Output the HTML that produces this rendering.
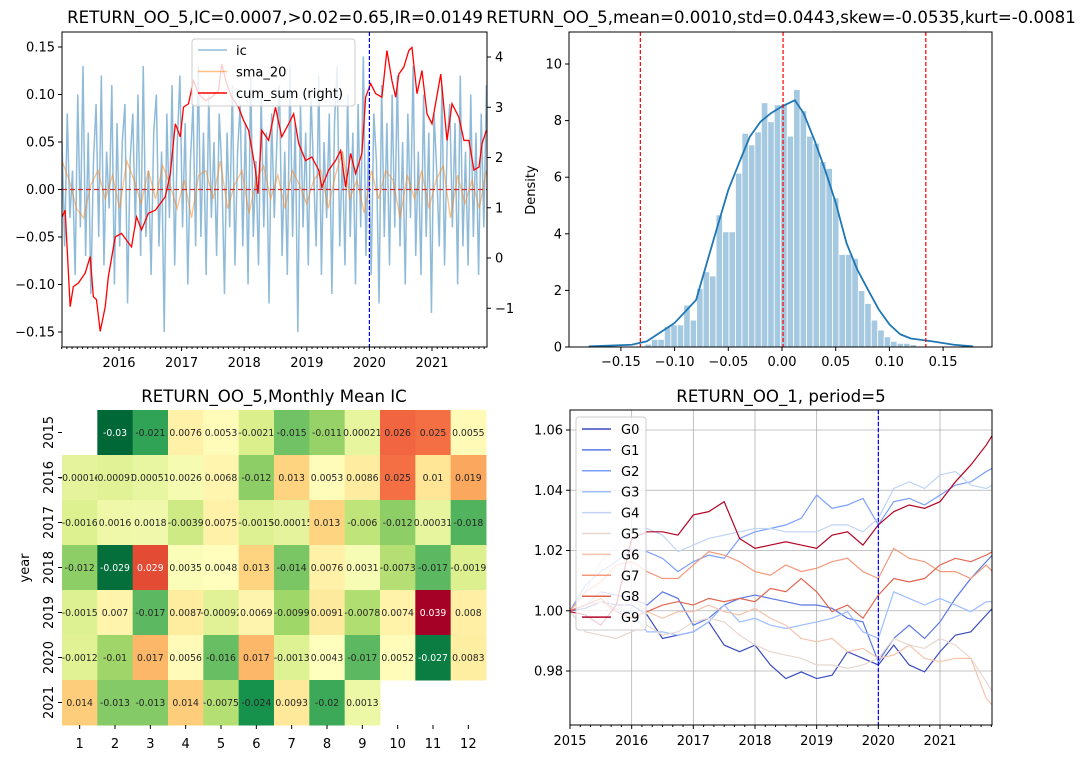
<!DOCTYPE html>
<html><head><meta charset="utf-8">
<style>
html,body{margin:0;padding:0;background:#fff;}
svg{display:block;font-family:"DejaVu Sans","Liberation Sans",sans-serif;}
</style></head>
<body>
<svg id="fig" width="1085" height="759" viewBox="0 0 1085 759" xmlns="http://www.w3.org/2000/svg">
<rect x="0" y="0" width="1085" height="759" fill="#fff"/>
<g id="p1"></g>
<g id="p2"></g>
<g id="p3"></g>
<g id="p4"></g>
</svg>
<script>
// ---------- Panel 1 data ----------
const icStart = 2015.09, icEnd = 2021.87;
const icValues = [0.05,-0.06,0.08,-0.03,0.02,-0.09,0.1,-0.04,0.13,-0.07,0.06,-0.11,0.03,0.09,-0.05,0.12,-0.08,0.04,-0.02,0.11,-0.1,0.07,-0.06,0.05,0.09,-0.12,0.03,0.08,-0.04,0.1,-0.07,0.13,-0.05,0.02,-0.09,0.06,0.1,-0.06,0.04,-0.15,0.08,-0.03,0.11,-0.08,0.05,0.12,-0.04,0.07,-0.1,0.03,0.09,-0.06,0.13,-0.05,0.06,-0.09,0.1,-0.03,0.05,-0.07,0.08,0.02,-0.11,0.06,-0.04,0.11,-0.08,0.04,0.09,-0.06,0.07,-0.1,0.12,-0.05,0.03,-0.08,0.1,-0.04,0.06,-0.12,0.08,-0.03,0.05,0.11,-0.07,0.04,-0.09,0.13,-0.05,0.07,-0.15,0.09,-0.04,0.06,-0.08,0.1,0.02,-0.06,0.12,-0.09,0.05,-0.03,0.08,-0.11,0.07,0.13,-0.06,0.04,-0.08,0.1,-0.05,0.06,-0.1,0.09,-0.04,0.14,-0.07,0.05,-0.09,0.08,0.03,-0.12,0.11,-0.05,0.07,-0.08,0.1,-0.04,0.12,-0.06,0.05,-0.1,0.08,-0.03,0.13,-0.07,0.04,-0.09,0.1,-0.05,0.06,-0.13,0.08,0.02,-0.06,0.11,-0.08,0.05,0.09,-0.04,0.07,-0.1,0.12,-0.06,0.04,-0.08,0.1,-0.05,0.06,-0.09,0.08,-0.04,0.11];
const smaValues = [0.03,0.01,-0.02,-0.03,0.005,0.02,-0.01,0.015,-0.02,0.03,0.01,-0.015,0.02,-0.01,0.025,0.005,-0.02,0.01,-0.03,0.015,0.02,-0.01,0.03,-0.02,0.005,0.02,-0.025,0.01,0.025,-0.01,0.015,-0.02,0.02,0.005,-0.015,0.01,0.02,-0.02,0.015,0.04,-0.01,0.01,-0.025,0.02,-0.01,0.02,0.01,-0.03,0.015,-0.01,0.02,-0.02,0.01,0.025,-0.03,0.015,-0.015,0.01,-0.02,0.02];
const cumDates = [2015.09,2015.14,2015.22,2015.27,2015.35,2015.46,2015.54,2015.59,2015.64,2015.70,2015.78,2015.83,2015.94,2016.04,2016.20,2016.28,2016.36,2016.47,2016.58,2016.74,2016.82,2016.90,2016.98,2017.03,2017.11,2017.19,2017.27,2017.38,2017.48,2017.59,2017.64,2017.72,2017.80,2017.91,2017.99,2018.07,2018.18,2018.22,2018.28,2018.39,2018.50,2018.60,2018.71,2018.79,2018.87,2018.98,2019.08,2019.19,2019.24,2019.35,2019.46,2019.54,2019.62,2019.70,2019.78,2019.88,2019.94,2020.02,2020.10,2020.20,2020.28,2020.36,2020.42,2020.47,2020.55,2020.63,2020.68,2020.76,2020.84,2020.92,2021.00,2021.14,2021.24,2021.32,2021.43,2021.51,2021.59,2021.67,2021.75,2021.80,2021.87];
const cumValues = [0.82,0.95,-0.97,-0.57,-0.50,-0.30,0.03,-0.77,-0.83,-1.46,-0.97,-0.37,0.42,0.49,0.22,0.82,0.56,0.89,0.95,1.22,1.68,2.67,2.41,3.00,3.07,3.53,3.27,3.13,3.20,3.33,3.86,3.47,3.20,3.00,2.74,2.54,1.75,1.28,2.54,2.34,3.00,2.41,2.67,2.87,2.28,1.94,2.01,1.75,1.41,1.75,1.94,2.14,1.41,2.08,1.68,2.08,3.20,3.47,3.27,3.20,4.13,3.53,3.20,3.66,3.80,4.13,4.19,3.27,3.73,2.87,2.67,3.66,2.34,3.07,2.80,2.34,2.34,1.75,1.81,2.28,2.54];
const p1LeftTicks = [0.15,0.10,0.05,0.00,-0.05,-0.10,-0.15];
const p1LeftTickLabels = ["0.15","0.10","0.05","0.00","−0.05","−0.10","−0.15"];
const p1RightTicks = [4,3,2,1,0,-1];
const p1RightTickLabels = ["4","3","2","1","0","−1"];
const p1YearTicks = [2016,2017,2018,2019,2020,2021];
const splitDate = 2020.0;

// ---------- Panel 2 data ----------
const binStart = -0.1276, binWidth = 0.00602;
const binDensity = [0.1,0.27,0.27,0.72,0.78,0.78,1.48,0.95,2.07,2.66,2.51,4.67,4.07,4.07,6.14,7.55,7.14,7.6,8.63,7.96,8.56,8.58,7.45,9.1,8.35,7.45,7.2,6.55,6.31,5.27,3.27,3.27,3.13,1.99,1.54,0.95,0.6,0.36,0.2,0.13,0.13,0.08];
const kdeX = [-0.18,-0.14,-0.126,-0.10,-0.08,-0.07,-0.06,-0.05,-0.04,-0.03,-0.02,-0.01,0.0,0.012,0.02,0.03,0.04,0.05,0.06,0.07,0.08,0.09,0.10,0.11,0.12,0.14,0.16,0.178];
const kdeY = [0.02,0.08,0.2,0.85,1.66,2.97,4.27,5.55,6.5,7.43,7.96,8.27,8.5,8.72,8.27,7.33,6.27,5.1,3.68,2.74,2.03,1.33,0.8,0.45,0.3,0.2,0.08,0.02];
const distLines = [-0.1319,0.0010,0.1339];
const p2XTicks = [-0.15,-0.10,-0.05,0.00,0.05,0.10,0.15];
const p2XTickLabels = ["−0.15","−0.10","−0.05","0.00","0.05","0.10","0.15"];
const p2YTicks = [0,2,4,6,8,10];

// ---------- Panel 3 data ----------
const hmYears = ["2015","2016","2017","2018","2019","2020","2021"];
const hmMonths = ["1","2","3","4","5","6","7","8","9","10","11","12"];
const hm2015 = [null,-0.03,-0.021,0.0076,0.0053,-0.0021,-0.015,-0.011,0.00021,0.026,0.025,0.0055];
const hm2016 = [-0.00016,-0.00091,0.00051,0.0026,0.0068,-0.012,0.013,0.0053,0.0086,0.025,0.01,0.019];
const hm2017 = [-0.0016,0.0016,0.0018,-0.0039,0.0075,-0.0015,-0.00015,0.013,-0.006,-0.012,0.00031,-0.018];
const hm2018 = [-0.012,-0.029,0.029,0.0035,0.0048,0.013,-0.014,0.0076,0.0031,-0.0073,-0.017,-0.0019];
const hm2019 = [-0.0015,0.007,-0.017,0.0087,-0.00092,0.0069,-0.0099,0.0091,-0.0078,0.0074,0.039,0.008];
const hm2020 = [-0.0012,-0.01,0.017,0.0056,-0.016,0.017,-0.0013,0.0043,-0.017,0.0052,-0.027,0.0083];
const hm2021 = [0.014,-0.013,-0.013,0.014,-0.0075,-0.024,0.0093,-0.02,0.0013,null,null,null];

// ---------- Panel 4 data ----------
const grpDates = [2015.0,2015.25,2015.5,2015.75,2016.0,2016.25,2016.5,2016.75,2017.0,2017.25,2017.5,2017.75,2018.0,2018.25,2018.5,2018.75,2019.0,2019.25,2019.5,2019.75,2020.0,2020.25,2020.5,2020.75,2021.0,2021.25,2021.5,2021.75,2021.85];
const G0 = [1.000,1.0008,1.003,1.0019,1.0019,0.9986,0.9908,0.9919,0.993,0.9963,0.9886,0.9864,0.9886,0.982,0.9775,0.9797,0.9775,0.9786,0.9864,0.9842,0.982,0.9886,0.982,0.9797,0.9864,0.9919,0.993,0.9986,1.0008];
const G1 = [1.0,1.0019,1.0063,1.0052,1.0041,1.0019,1.0063,1.0041,0.9952,0.9975,1.0019,1.0041,1.0052,1.0041,1.003,1.0019,1.0019,1.0008,0.9975,0.9963,0.9831,0.9908,0.9952,0.9908,0.9963,1.0041,1.0107,1.0163,1.0185];
const G2 = [1.0,1.0085,1.013,1.0163,1.0207,1.0196,1.0174,1.013,1.0163,1.0185,1.0174,1.024,1.0262,1.0273,1.0285,1.0307,1.0384,1.034,1.0351,1.0373,1.0285,1.0362,1.0373,1.0351,1.0384,1.0417,1.0428,1.0462,1.0473];
const G3 = [1.0,1.0019,1.0063,0.9997,0.9997,0.993,0.993,0.9919,0.993,0.9963,1.0019,0.9963,0.9975,0.9952,0.9941,0.9952,0.9963,0.9975,0.9997,0.993,0.9908,1.0063,1.0041,1.0019,1.0041,1.0019,0.9997,1.003,1.003];
const G4 = [1.0,1.0063,1.0163,1.0218,1.0273,1.0273,1.0251,1.0196,1.0218,1.024,1.0251,1.0262,1.0273,1.0273,1.0262,1.0262,1.0262,1.0285,1.0285,1.0262,1.0307,1.0406,1.0428,1.0406,1.0451,1.0462,1.0417,1.0406,1.0417];
const G5 = [1.0,0.993,0.9919,0.9908,0.993,0.9952,0.9919,0.993,0.9963,0.9975,0.9963,0.9919,0.9886,0.9864,0.9853,0.9842,0.982,0.982,0.9809,0.982,0.9842,0.9908,0.9886,0.9875,0.9908,0.9886,0.9842,0.9764,0.9731];
const G6 = [1.0,1.0019,1.003,0.9997,1.0041,0.9997,0.9975,0.9997,0.9997,1.0019,0.9997,0.9986,1.0008,0.9975,0.9952,0.9908,0.9897,0.9908,0.9864,0.9875,0.9842,0.9853,0.9886,0.9842,0.9831,0.9842,0.9842,0.9709,0.9687];
const G7 = [1.0,1.0063,1.0096,1.0152,1.0163,1.013,1.0107,1.0107,1.0152,1.0196,1.0185,1.0163,1.013,1.0118,1.0152,1.013,1.0141,1.0163,1.0174,1.013,1.0107,1.0207,1.0174,1.0163,1.013,1.013,1.0107,1.0152,1.013];
const G8 = [1.0,1.0019,1.0041,0.9997,0.9975,0.9997,1.0019,1.003,1.0019,1.0041,1.003,1.0041,1.003,1.0074,1.0063,1.0107,1.0063,0.9997,1.0019,0.9975,1.0052,1.0107,1.0096,1.0107,1.0152,1.0174,1.0163,1.0185,1.0196];
const G9 = [0.9997,0.9986,0.9952,1.0019,1.024,1.0262,1.0262,1.0251,1.0318,1.0329,1.0362,1.024,1.0207,1.0218,1.0229,1.0218,1.0207,1.0251,1.0262,1.0218,1.0285,1.0329,1.0351,1.034,1.0362,1.0428,1.0484,1.055,1.0583];
const grpNames = ["G0","G1","G2","G3","G4","G5","G6","G7","G8","G9"];
const p4YTicks = [0.98,1.00,1.02,1.04,1.06];
const p4YTickLabels = ["0.98","1.00","1.02","1.04","1.06"];
const p4XTicks = [2015,2016,2017,2018,2019,2020,2021];

// ---------- helpers ----------
const NS = "http://www.w3.org/2000/svg";
function mk(parent, tag, attrs, text){
  const e = document.createElementNS(NS, tag);
  for (const k in attrs) e.setAttribute(k, attrs[k]);
  if (text !== undefined) e.textContent = text;
  parent.appendChild(e);
  return e;
}
function lin(d0,d1,r0,r1){ return v => r0 + (v-d0)*(r1-r0)/(d1-d0); }
function pathFrom(xs, ys){ return xs.map((x,i)=>(i?"L":"M")+x.toFixed(2)+","+ys[i].toFixed(2)).join(""); }
const TITLE_FS = "16.6";

// ================= Panel 1 =================
(function(){
  const g = document.getElementById("p1");
  const L=62,R=487,T=32,B=347;
  const x = lin(2016,2021,119,432);
  const yl = lin(0,0.15,189.5,47);
  const yr = lin(0,4,258,57);
  const cp = mk(g,"clipPath",{id:"c1"}); mk(cp,"rect",{x:L,y:T,width:R-L,height:B-T});
  const plot = mk(g,"g",{"clip-path":"url(#c1)"});
  const n = icValues.length;
  const icX = icValues.map((v,i)=>x(icStart + i*(icEnd-icStart)/(n-1)));
  const icLine = mk(plot,"path",{d:pathFrom(icX, icValues.map(yl)),fill:"none",stroke:"#1f77b4","stroke-opacity":"0.5","stroke-width":"1.5"});
  
  
  const m = smaValues.length;
  const smaX = smaValues.map((v,i)=>x(icStart + i*(icEnd-icStart)/(m-1)));
  const smaLine = mk(plot,"path",{d:pathFrom(smaX, smaValues.map(yl)),fill:"none",stroke:"#ff7f0e","stroke-opacity":"0.5","stroke-width":"1.3"});
  
  
  const zero = mk(plot,"line",{x1:L,x2:R,y1:yl(0),y2:yl(0),stroke:"#d62728","stroke-dasharray":"5,3","stroke-width":"1.3"});
  
  
  const cum = mk(plot,"path",{d:pathFrom(cumDates.map(x), cumValues.map(yr)),fill:"none",stroke:"#ff0000","stroke-width":"1.3"});
  
  
  const split = mk(plot,"line",{x1:x(splitDate),x2:x(splitDate),y1:T,y2:B,stroke:"#0000ff","stroke-dasharray":"4,2","stroke-width":"1.2"});
  
  
  mk(g,"rect",{x:L,y:T,width:R-L,height:B-T,fill:"none",stroke:"#000","stroke-width":"1"});
  p1LeftTicks.forEach((v,i)=>{
    mk(g,"line",{x1:L-4,x2:L,y1:yl(v),y2:yl(v),stroke:"#000"});
    const t = mk(g,"text",{x:L-7,y:yl(v)+4.5,"text-anchor":"end","font-size":"13"},p1LeftTickLabels[i]);
    
    
  });
  p1RightTicks.forEach((v,i)=>{
    mk(g,"line",{x1:R,x2:R+4,y1:yr(v),y2:yr(v),stroke:"#000"});
    const t = mk(g,"text",{x:R+8,y:yr(v)+4.5,"font-size":"13"},p1RightTickLabels[i]);
    
    
  });
  for (let yv=2015; yv<2022; yv++) for (let mo=0; mo<12; mo++){
    const d = yv + mo/12; const px = x(d);
    if (px < L-0.5 || px > R+0.5) continue;
    mk(g,"line",{x1:px,x2:px,y1:B,y2:B+(mo===0?4:2),stroke:"#000"});
  }
  p1YearTicks.forEach(v=>{
    const t = mk(g,"text",{x:x(v),y:B+20,"text-anchor":"middle","font-size":"13"},String(v));
    
    
  });
  const title = mk(g,"text",{x:275,y:23,"text-anchor":"middle","font-size":TITLE_FS},"RETURN_OO_5,IC=0.0007,>0.02=0.65,IR=0.0149");
  
  
  const lg = mk(g,"g",{});
  
  
  mk(lg,"rect",{x:192,y:39,width:163,height:67,rx:3,fill:"#fff","fill-opacity":"0.8",stroke:"#ccc"});
  const lgItems = [["ic","#1f77b4",0.5],["sma_20","#ff7f0e",0.5],["cum_sum (right)","#ff0000",1]];
  lgItems.forEach((it,i)=>{
    const yy = 50 + i*21.5;
    mk(lg,"line",{x1:198,x2:227,y1:yy,y2:yy,stroke:it[1],"stroke-opacity":it[2],"stroke-width":"1.5"});
    const t = mk(lg,"text",{x:236,y:yy+5,"font-size":"13"},it[0]);
    
    
  });
})();

// ================= Panel 2 =================
(function(){
  const g = document.getElementById("p2");
  const L=569,R=992,T=32,B=347;
  const x = lin(0,0.05,782,835.7);
  const y = lin(0,10,347,64);
  binDensity.forEach((d,i)=>{
    const x0 = x(binStart + i*binWidth), x1 = x(binStart + (i+1)*binWidth);
    const r = mk(g,"rect",{x:x0,y:y(d),width:x1-x0,height:B-y(d),fill:"#1f77b4","fill-opacity":"0.4",stroke:"#fff","stroke-width":"0.8"});
    
    
  });
  const kde = mk(g,"path",{d:pathFrom(kdeX.map(x), kdeY.map(y)),fill:"none",stroke:"#1f77b4","stroke-width":"1.8","stroke-linejoin":"round"});
  
  
  distLines.forEach(v=>{
    const l = mk(g,"line",{x1:x(v),x2:x(v),y1:T,y2:B,stroke:"#ff0000","stroke-dasharray":"4,2","stroke-width":"1.2"});
    
    
  });
  mk(g,"rect",{x:L,y:T,width:R-L,height:B-T,fill:"none",stroke:"#000"});
  p2XTicks.forEach((v,i)=>{
    mk(g,"line",{x1:x(v),x2:x(v),y1:B,y2:B+4,stroke:"#000"});
    const t = mk(g,"text",{x:x(v),y:B+19,"text-anchor":"middle","font-size":"13"},p2XTickLabels[i]);
    
    
  });
  p2YTicks.forEach(v=>{
    mk(g,"line",{x1:L-4,x2:L,y1:y(v),y2:y(v),stroke:"#000"});
    const t = mk(g,"text",{x:L-7,y:y(v)+4.5,"text-anchor":"end","font-size":"13"},String(v));
    
    
  });
  const yt = mk(g,"text",{x:0,y:0,"font-size":"13","text-anchor":"middle",transform:"translate(535,190) rotate(-90)"},"Density");
  
  
  const title = mk(g,"text",{x:781,y:23,"text-anchor":"middle","font-size":TITLE_FS},"RETURN_OO_5,mean=0.0010,std=0.0443,skew=-0.0535,kurt=-0.0081");
  
  
})();

// ================= Panel 3 =================
(function(){
  const g = document.getElementById("p3");
  const L=62,T=410,cw=(486-62)/12,ch=(725-410)/7;
  const rows = [hm2015,hm2016,hm2017,hm2018,hm2019,hm2020,hm2021];
  const all = rows.flat().filter(v=>v!==null);
  const vmin = Math.min(...all), vmax = Math.max(...all);
  const stops = ["#006837","#1a9850","#66bd63","#a6d96a","#d9ef8b","#ffffbf","#fee08b","#fdae61","#f46d43","#d73027","#a50026"];
  function hex(h){return [1,3,5].map(i=>parseInt(h.substr(i,2),16));}
  function cmap(t){
    t = Math.max(0,Math.min(1,t)); const s = t*10; const i = Math.min(9,Math.floor(s)); const f = s-i;
    const a = hex(stops[i]), b = hex(stops[i+1]);
    return a.map((c,k)=>Math.round(c+(b[k]-c)*f));
  }
  rows.forEach((row,r)=>{
    row.forEach((v,c)=>{
      if (v===null) return;
      const col = cmap((v-vmin)/(vmax-vmin));
      const cell = mk(g,"rect",{x:L+c*cw,y:T+r*ch,width:cw+0.5,height:ch+0.5,fill:`rgb(${col.join(",")})`});
      
      
      const lum = (0.2126*col[0]+0.7152*col[1]+0.0722*col[2])/255;
      const t = mk(g,"text",{x:L+c*cw+cw/2,y:T+r*ch+ch/2+3.5,"text-anchor":"middle","font-size":"9.3",fill:lum>0.42?"#262626":"#fff"},String(v));
      
      
    });
  });
  hmYears.forEach((yv,r)=>{
    const cy = T+r*ch+ch/2;
    mk(g,"line",{x1:L-4,x2:L,y1:cy,y2:cy,stroke:"#000"});
    const t = mk(g,"text",{x:0,y:0,"font-size":"13","text-anchor":"middle",transform:`translate(${L-9},${cy}) rotate(-90)`},yv);
    
    
  });
  hmMonths.forEach((mo,c)=>{
    const cx = L+c*cw+cw/2;
    mk(g,"line",{x1:cx,x2:cx,y1:725,y2:729,stroke:"#000"});
    const t = mk(g,"text",{x:cx,y:748,"font-size":"13","text-anchor":"middle"},mo);
    
    
  });
  const yl = mk(g,"text",{x:0,y:0,"font-size":"13","text-anchor":"middle",transform:"translate(29,568) rotate(-90)"},"year");
  
  
  const title = mk(g,"text",{x:274,y:402,"text-anchor":"middle","font-size":TITLE_FS},"RETURN_OO_5,Monthly Mean IC");
  
  
})();

// ================= Panel 4 =================
(function(){
  const g = document.getElementById("p4");
  const L=570,R=992,T=410,B=725;
  const x = lin(2015,2021,570,940);
  const y = lin(0.98,1.06,671,430);
  const cp = mk(g,"clipPath",{id:"c4"}); mk(cp,"rect",{x:L,y:T,width:R-L,height:B-T});
  p4XTicks.forEach(v=>{ mk(g,"line",{x1:x(v),x2:x(v),y1:T,y2:B,stroke:"#b0b0b0","stroke-width":"0.8"}); });
  p4YTicks.forEach(v=>{ mk(g,"line",{x1:L,x2:R,y1:y(v),y2:y(v),stroke:"#b0b0b0","stroke-width":"0.8"}); });
  const colors = ["#3b4cc0","#5a78e4","#7b9ff9","#9ebeff","#c0d4f5","#e6d7cf","#f5c4ac","#f49a7b","#e0654f","#b40426"];
  const series = [G0,G1,G2,G3,G4,G5,G6,G7,G8,G9];
  const plot = mk(g,"g",{"clip-path":"url(#c4)"});
  series.forEach((s,i)=>{
    const p = mk(plot,"path",{d:pathFrom(grpDates.map(x), s.map(y)),fill:"none",stroke:colors[i],"stroke-width":"1.2"});
    
    
  });
  const split = mk(plot,"line",{x1:x(2020),x2:x(2020),y1:T,y2:B,stroke:"#0000ff","stroke-dasharray":"4,2","stroke-width":"1.2"});
  
  
  mk(g,"rect",{x:L,y:T,width:R-L,height:B-T,fill:"none",stroke:"#000"});
  p4YTicks.forEach((v,i)=>{
    mk(g,"line",{x1:L-4,x2:L,y1:y(v),y2:y(v),stroke:"#000"});
    const t = mk(g,"text",{x:L-7,y:y(v)+4.5,"text-anchor":"end","font-size":"13"},p4YTickLabels[i]);
    
    
  });
  for (let yv=2015; yv<2022; yv++) for (let mo=0; mo<12; mo+=2){
    const px = x(yv+mo/12); if (px>R+0.5) continue;
    mk(g,"line",{x1:px,x2:px,y1:B,y2:B+(mo===0?4:2),stroke:"#000"});
  }
  p4XTicks.forEach(v=>{
    const t = mk(g,"text",{x:x(v),y:B+20,"text-anchor":"middle","font-size":"13"},String(v));
    
    
  });
  const lg = mk(g,"g",{});
  
  
  mk(lg,"rect",{x:576,y:417,width:70,height:213,rx:3,fill:"#fff","fill-opacity":"0.8",stroke:"#ccc"});
  grpNames.forEach((nm,i)=>{
    const yy = 429 + i*20.9;
    mk(lg,"line",{x1:582,x2:611,y1:yy,y2:yy,stroke:colors[i],"stroke-width":"1.5"});
    const t = mk(lg,"text",{x:621,y:yy+5,"font-size":"13"},nm);
    
    
  });
  const title = mk(g,"text",{x:781,y:402,"text-anchor":"middle","font-size":TITLE_FS},"RETURN_OO_1, period=5");
  
  
})();
</script>
</body></html>
